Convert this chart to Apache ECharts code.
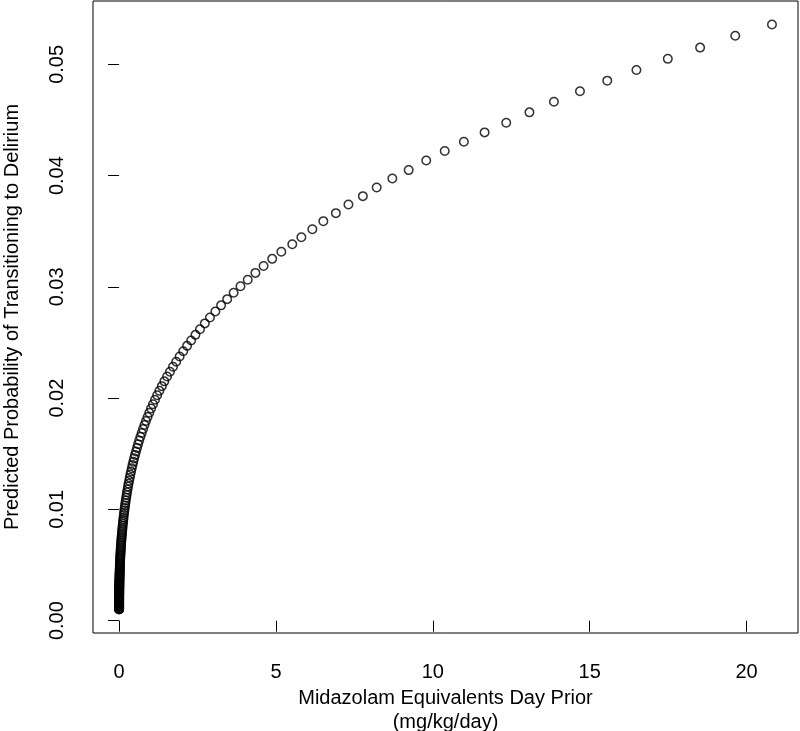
<!DOCTYPE html>
<html>
<head>
<meta charset="utf-8">
<script src="https://cdn.jsdelivr.net/npm/echarts@6/dist/echarts.min.js"></script>
<style>html,body{margin:0;padding:0;background:#fff;}#chart{width:800px;height:731px;}</style>
</head>
<body>
<div id="chart"></div>
<script>
// Midazolam equivalents day prior (mg/kg/day)
var doseX = [20.81,19.64,18.52,17.49,16.49,15.56,14.69,13.86,13.08,12.34,11.65,10.99,10.38,9.79,9.23,8.71,8.21,7.77,7.31,6.91,6.51,6.16,5.81,5.52,
5.171,4.880,4.605,4.345,4.100,3.869,3.651,3.445,3.251,3.068,2.895,2.732,2.578,2.433,2.296,2.166,2.044,1.929,1.820,1.718,1.621,1.530,1.443,1.362,1.285,1.213,1.145,1.080,1.019,
0.9618,0.9076,0.8564,0.8082,0.7626,0.7196,0.6791,0.6408,0.6047,0.5706,0.5385,0.5081,0.4795,0.4525,0.4270,0.4029,0.3802,0.3588,0.3386,0.3195,0.3015,0.2845,0.2685,0.2534,0.2391,0.2256,0.2129,0.2009,
0.1896,0.1789,0.1688,0.1593,0.1503,0.1419,0.1339,0.1263,0.1192,0.1125,0.1062,0.1002,0.0945,0.0892,0.0842,0.0794,0.0750,0.0707,0.0667,0.0630,
0.0594,0.0561,0.0529,0.0499,0.0471,0.0445,0.0420,0.0396,0.0374,0.0353,0.0333,0.0314,0.0296,0.0280,0.0264,0.0249,0.0235,0.0222,0.0209,0.0197,
0.0186,0.0176,0.0166,0.0156,0.0148,0.0139,0.0131,0.0124,0.0117,0.0110,0.0104,0.0098,0.0093,0.0087,0.0082,0.0078,0.0073,0.0069,0.0065,0.0062,
0.0058,0.0055,0.0052,0.0049,0.0046,0.0043,0.0041,0.0039,0.0036,0.0034,0.0032,0.0030,0.0029,0.0027,0.0026,0.0024,0.0023,0.0022,0.0020,0.0019,
0.0018,0.0017,0.0016,0.0015,0.0014,0.0013,0.0013,0.0012,0.0011,0.0011,0.0010,0.0009,0.0009,0.0008,0.0008,0.0007,0.0007,0.0007,0.0006,0.0006,
0.0006,0.0005,0.0005,0.0005,0.0004,0.0004,0.0004,0.0004,0.0003,0.0003,0.0003,0.0003];

// Predicted probability of transitioning to delirium
var probY = [0.05359,0.05257,0.05151,0.05050,0.04950,0.04854,0.04758,0.04665,0.04569,0.04476,0.04389,0.04305,0.04221,0.04137,0.04050,0.03975,0.03894,0.03816,0.03741,0.03663,0.03591,0.03519,0.03447,0.03384,
0.03316,0.03252,0.03188,0.03126,0.03065,0.03006,0.02948,0.02890,0.02834,0.02779,0.02725,0.02672,0.02620,0.02569,0.02519,0.02470,0.02422,0.02374,0.02328,0.02283,0.02238,0.02194,0.02151,0.02108,0.02067,0.02026,0.01986,0.01946,0.01907,
0.01869,0.01831,0.01794,0.01758,0.01722,0.01687,0.01653,0.01619,0.01586,0.01553,0.01521,0.01490,0.01459,0.01429,0.01399,0.01370,0.01341,0.01313,0.01285,0.01258,0.01231,0.01205,0.01179,0.01154,0.01129,0.01105,0.01081,0.01058,
0.01035,0.01013,0.00991,0.00970,0.00949,0.00928,0.00908,0.00888,0.00869,0.00850,0.00831,0.00813,0.00796,0.00779,0.00763,0.00747,0.00732,0.00717,0.00702,0.00687,
0.00673,0.00659,0.00645,0.00632,0.00619,0.00606,0.00593,0.00581,0.00569,0.00557,0.00546,0.00534,0.00523,0.00512,0.00502,0.00491,0.00481,0.00471,0.00461,0.00452,
0.00442,0.00433,0.00424,0.00415,0.00407,0.00398,0.00390,0.00382,0.00374,0.00366,0.00359,0.00351,0.00344,0.00337,0.00330,0.00323,0.00316,0.00310,0.00303,0.00297,
0.00291,0.00285,0.00279,0.00273,0.00267,0.00262,0.00256,0.00251,0.00246,0.00241,0.00236,0.00231,0.00226,0.00221,0.00217,0.00212,0.00208,0.00203,0.00199,0.00195,
0.00191,0.00187,0.00183,0.00179,0.00175,0.00172,0.00168,0.00165,0.00161,0.00158,0.00155,0.00151,0.00148,0.00145,0.00142,0.00139,0.00136,0.00133,0.00131,0.00128,
0.00125,0.00123,0.00120,0.00118,0.00115,0.00113,0.00111,0.00108,0.00106,0.00104,0.00102,0.00100];

var xTicks = [0, 5, 10, 15, 20];
var xTickLabels = ['0', '5', '10', '15', '20'];
var yTicks = [0, 0.01, 0.02, 0.03, 0.04, 0.05];
var yTickLabels = ['0.00', '0.01', '0.02', '0.03', '0.04', '0.05'];
var xTitle = 'Midazolam Equivalents Day Prior\n(mg/kg/day)';
var yTitle = 'Predicted Probability of Transitioning to Delirium';

var points = doseX.map(function (x, i) { return [x, probY[i]]; });

var FONT = '"Liberation Sans", Arial, Helvetica, sans-serif';
var chart = echarts.init(document.getElementById('chart'), null, {renderer: 'canvas'});
chart.setOption({
  animation: false,
  backgroundColor: '#fff',
  grid: {left: 93, top: 1, width: 705, height: 632, containLabel: false, outerBoundsMode: 'none',
    show: true, borderColor: '#000', borderWidth: 1, backgroundColor: 'transparent'},
  xAxis: {
    type: 'value', min: -0.832, max: 21.64,
    axisLine: {show: false},
    splitLine: {show: false},
    axisTick: {show: true, inside: false, length: 11, lineStyle: {color: '#000', width: 1}, customValues: xTicks},
    axisLabel: {customValues: xTicks, margin: 29, color: '#000', fontSize: 20, fontFamily: FONT,
      formatter: function (v) { var i = xTicks.indexOf(v); return i >= 0 ? xTickLabels[i] : ''; }},
    name: xTitle, nameLocation: 'middle', nameGap: 50,
    nameTextStyle: {color: '#000', fontSize: 20, fontFamily: FONT, lineHeight: 24}
  },
  yAxis: {
    type: 'value', min: -0.00111, max: 0.0557,
    axisLine: {show: false},
    splitLine: {show: false},
    axisTick: {show: true, inside: false, length: 11, lineStyle: {color: '#000', width: 1}, customValues: yTicks},
    axisLabel: {customValues: yTicks, margin: 26, rotate: 90, color: '#000', fontSize: 20, fontFamily: FONT,
      formatter: function (v) { for (var i = 0; i < yTicks.length; i++) { if (Math.abs(yTicks[i] - v) < 1e-9) return yTickLabels[i]; } return ''; }},
    name: yTitle, nameLocation: 'middle', nameGap: 71, nameRotate: 90,
    nameTextStyle: {color: '#000', fontSize: 20, fontFamily: FONT}
  },
  series: [{
    type: 'scatter',
    data: points,
    symbol: 'circle',
    symbolSize: 8.5,
    itemStyle: {color: 'rgba(0,0,0,0)', borderColor: '#000', borderWidth: 1.5},
    emphasis: {disabled: true},
    silent: true
  }]
});
</script>
</body>
</html>
